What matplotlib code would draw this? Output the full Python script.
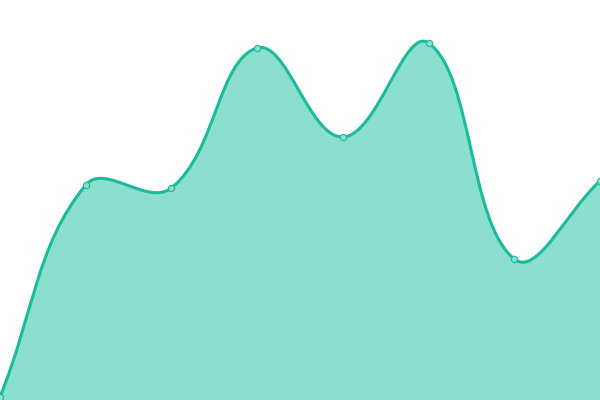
import numpy as np
import matplotlib
matplotlib.use("Agg")
import matplotlib.pyplot as plt
from matplotlib.path import Path
from matplotlib.patches import PathPatch

# значения точек (как на исходном графике)
labels = ["1", "2", "3", "4", "5", "6", "7", "8"]
values = [3, 215, 212, 352, 263, 357, 141, 219]

line_color = "#1abc9c"
fill_color = "#8adfcf"
tension = 0.4

fig = plt.figure(figsize=(6, 4), dpi=100)
ax = fig.add_axes([0, 0, 1, 1])
ax.set_xlim(0, len(values) - 1)
ax.set_ylim(0, 400)
ax.axis("off")

# сглаживание как в Chart.js (splineCurve), считаем в пикселях
xs = np.arange(len(values))
pts = ax.transData.transform(np.column_stack([xs, values]))
n = len(pts)
cp_prev = np.zeros_like(pts)
cp_next = np.zeros_like(pts)
for i in range(n):
    p = pts[i]
    prev = pts[i - 1] if i > 0 else p
    nxt = pts[i + 1] if i < n - 1 else p
    d01 = np.hypot(*(p - prev))
    d12 = np.hypot(*(nxt - p))
    s = d01 + d12
    fa = tension * d01 / s if s else 0
    fb = tension * d12 / s if s else 0
    cp_prev[i] = p - fa * (nxt - prev)
    cp_next[i] = p + fb * (nxt - prev)

verts = [pts[0]]
codes = [Path.MOVETO]
for i in range(n - 1):
    verts += [cp_next[i], cp_prev[i + 1], pts[i + 1]]
    codes += [Path.CURVE4] * 3

inv = ax.transData.inverted()
curve = inv.transform(np.array(verts))

# заливка под кривой
fill_verts = np.vstack([curve, [[xs[-1], 0], [xs[0], 0], curve[0]]])
fill_codes = codes + [Path.LINETO, Path.LINETO, Path.CLOSEPOLY]
ax.add_patch(PathPatch(Path(fill_verts, fill_codes), facecolor=fill_color,
                       edgecolor="none", zorder=1))

# линия
ax.add_patch(PathPatch(Path(curve, codes), facecolor="none",
                       edgecolor=line_color, lw=2.2, zorder=2,
                       capstyle="round", joinstyle="round"))

# точки
ax.plot(xs, values, "o", ms=4.5, mfc=fill_color, mec=line_color, mew=0.8,
        zorder=3, clip_on=True)

fig.savefig("out.png", dpi=100)
